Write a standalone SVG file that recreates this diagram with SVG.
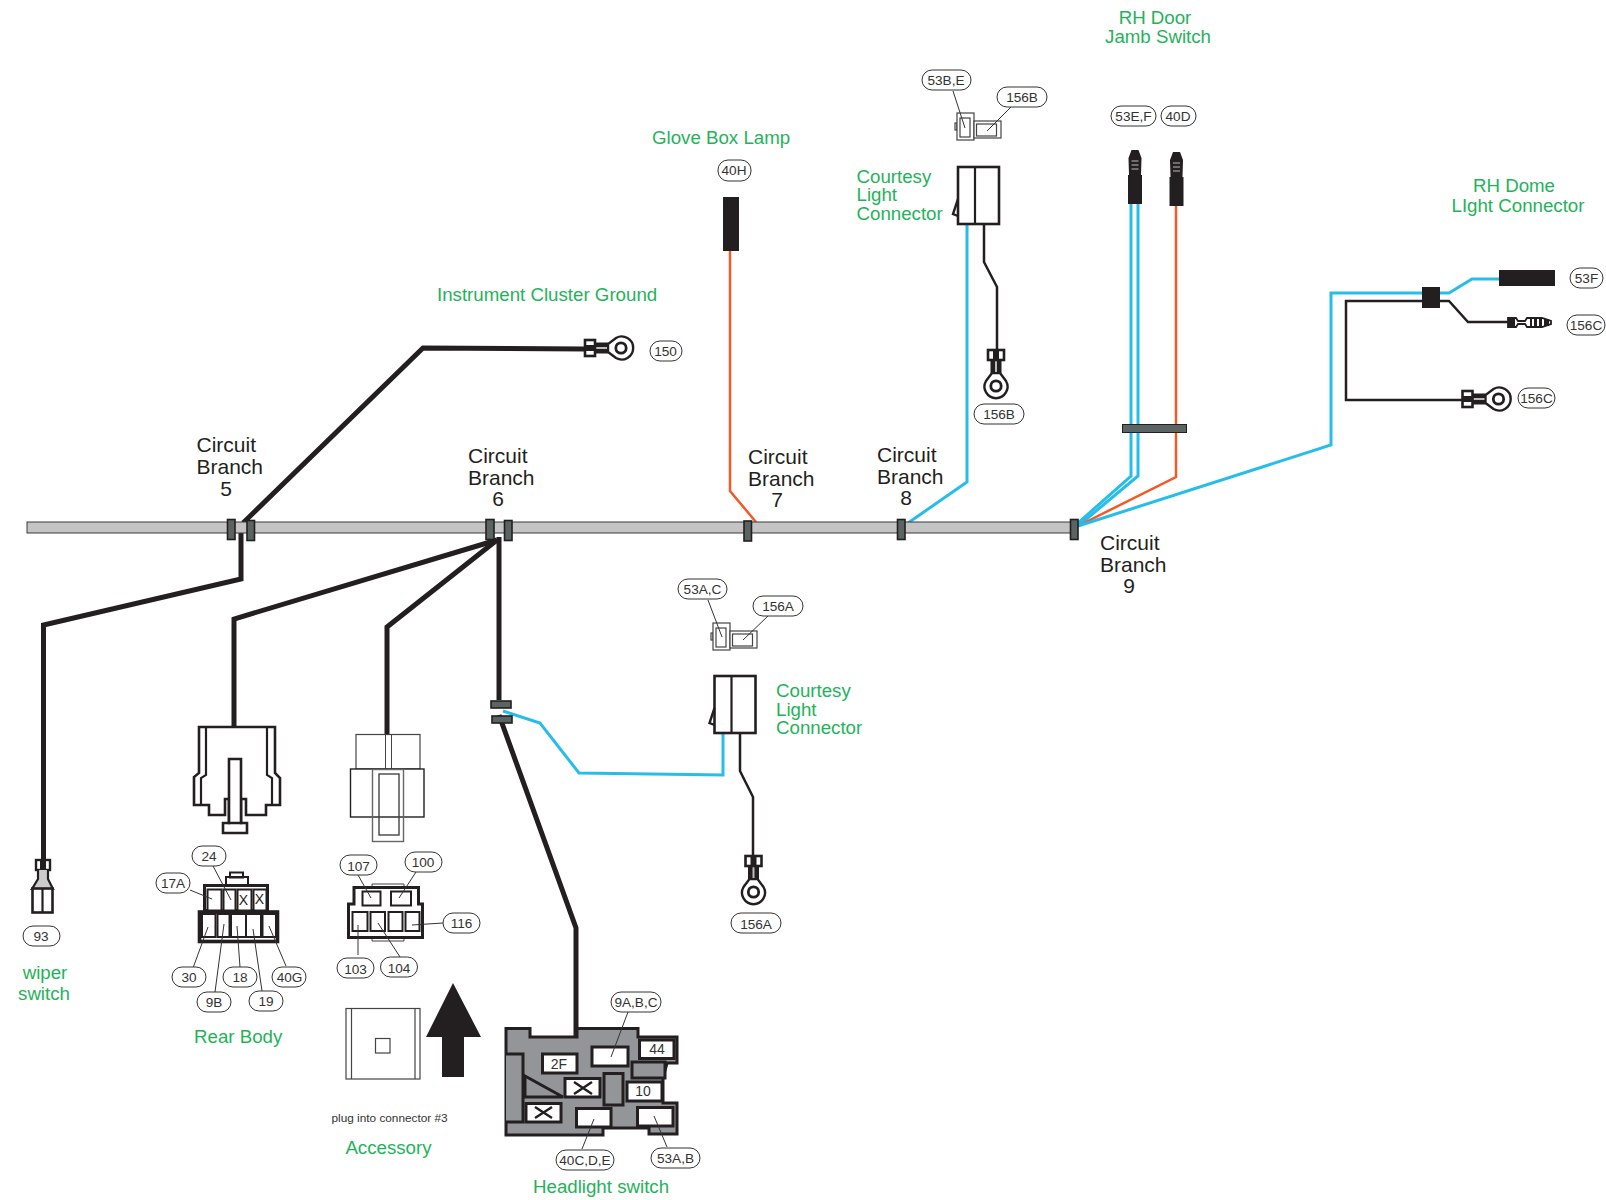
<svg xmlns="http://www.w3.org/2000/svg" xmlns:xlink="http://www.w3.org/1999/xlink" width="1606" height="1200" viewBox="0 0 1606 1200">
<style>
text{font-family:"Liberation Sans",Arial,sans-serif}
.g{font-size:18.7px;fill:#1fb35a}
.b{font-size:21px;fill:#231f20}
.m{text-anchor:middle}
.p{font-size:13.6px;fill:#333;text-anchor:middle}
.pill{fill:#fff;stroke:#333;stroke-width:1}
.ld{fill:none;stroke:#333;stroke-width:1}
.w{fill:none;stroke-linejoin:miter}
.k5{stroke:#231f20;stroke-width:5}
.k2{stroke:#231f20;stroke-width:2.5}
.bl{stroke:#27bdea;stroke-width:3}
.or{stroke:#f15a29;stroke-width:2.5}
.clip{fill:#5a6462;stroke:#231f20;stroke-width:1.6}
.thin{fill:#fff;stroke:#444;stroke-width:1.2}
.cell{fill:#fff;stroke:#231f20;stroke-width:2}
.hb{fill:#fff;stroke:#231f20;stroke-width:3}
.hg{fill:#939598;stroke:#231f20;stroke-width:3}
</style>
<defs>
<g id="ring">
<path d="M-4,-13 L-10,-5 A11.5,11.5 0 1 0 10,-5 L4,-13Z" fill="#fff" stroke="#231f20" stroke-width="2.4"/>
<circle r="5.2" fill="#fff" stroke="#231f20" stroke-width="2.8"/>
<rect x="-5.500" y="-26" width="11" height="13" fill="#231f20"/>
<rect x="-1" y="-26" width="2" height="12" fill="#bbb"/>
<rect x="-8" y="-36" width="16" height="10" fill="#fff" stroke="#231f20" stroke-width="2.6"/>
<rect x="-3" y="-36" width="6" height="10" fill="#231f20"/>
</g>
<g id="smallconn">
<rect x="-2" y="10" width="2" height="7" class="thin"/>
<rect x="0" y="0" width="17" height="27" class="thin"/>
<rect x="3" y="5" width="10" height="19" class="thin"/>
<rect x="17" y="8" width="27" height="17" class="thin"/>
<rect x="19.500" y="11" width="20" height="12" class="thin"/>
</g>
<g id="courtesy">
<rect x="0" y="0" width="41" height="57" fill="#fff" stroke="#231f20" stroke-width="2.6"/>
<path d="M17,0V57" stroke="#231f20" stroke-width="2.2"/>
<path d="M0,32L-5,47L0,49" fill="none" stroke="#231f20" stroke-width="2.4"/>
</g>
<g id="pin">
<path d="M-6,0 L-6.500,-17 L-3.500,-25 H3.500 L6.500,-17 L6,0Z" fill="#231f20"/>
<path d="M-3.500,-14H3.500M-3.500,-10H3.500M-3.500,-6H3.500" stroke="#bbb" stroke-width="1"/>
<rect x="-7" y="0" width="14" height="29" fill="#231f20"/>
</g>
</defs>

<g id="connectors">
<path class="w k5" d="M243,523L423,348L585,349"/>
<path class="w k5" d="M241,526V579L43.500,625V860"/>
<path class="w k5" d="M497,540L234,619V727"/>
<path class="w k5" d="M497,540L387,627V735"/>
<path class="w k5" d="M499,537V700M499,715L576,928V1037"/>
<path class="w bl" d="M503,711L540,723L579,773L723,775V733"/>
<path class="w k2" d="M740,733V771L753,797V857"/>
<path class="w or" d="M756,522L730,491V250"/>
<path class="w bl" d="M908,523L967,482V224"/>
<path class="w k2" d="M984,224V262L997,287V349"/>
<path class="w bl" d="M1131,204V476L1078,523"/>
<path class="w bl" d="M1138,204V476L1078,526"/>
<path class="w or" d="M1176,206V477L1078,526"/>
<path class="w bl" d="M1078,526L1331,445V293H1422"/>
<path class="w bl" d="M1440,293H1449L1472,279H1499"/>
<path class="w k2" d="M1422,301H1346V400H1462"/>
<path class="w k2" d="M1440,301H1449L1468,322H1510"/>
</g>

<g id="harness">
<rect x="27" y="522" width="1047" height="11" fill="#c4c4c4" stroke="#3a3a3a" stroke-width="1"/>
<rect class="clip" x="227.500" y="519.500" width="7.500" height="20"/>
<rect class="clip" x="247" y="520.500" width="7.500" height="20"/>
<rect class="clip" x="486" y="519.500" width="8" height="20"/>
<rect class="clip" x="504.500" y="520.500" width="7.500" height="20"/>
<rect class="clip" x="744" y="521" width="7.500" height="20"/>
<rect class="clip" x="897.500" y="519.500" width="7.500" height="20"/>
<rect class="clip" x="1070.500" y="519.500" width="7.500" height="20"/>
<rect class="clip" x="491" y="701" width="20" height="7"/>
<rect class="clip" x="492" y="716" width="20" height="7"/>
<rect x="1122.500" y="424.500" width="64" height="8" fill="#5a6462" stroke="#231f20"/>
</g>

<g id="branch-labels">
<text class="b" x="196.500" y="452">Circuit</text><text class="b" x="196.500" y="474">Branch</text><text class="b m" x="226" y="496">5</text>
<text class="b" x="468" y="463">Circuit</text><text class="b" x="468" y="485">Branch</text><text class="b m" x="498" y="506">6</text>
<text class="b" x="748" y="464">Circuit</text><text class="b" x="748" y="486">Branch</text><text class="b m" x="777" y="507">7</text>
<text class="b" x="877" y="462">Circuit</text><text class="b" x="877" y="484">Branch</text><text class="b m" x="906" y="505">8</text>
<text class="b" x="1100" y="550">Circuit</text><text class="b" x="1100" y="572">Branch</text><text class="b m" x="1129" y="593">9</text>
</g>

<g id="instrument-ground">
<use xlink:href="#ring" href="#ring" transform="translate(621,348) rotate(-90)"/>
<text class="g" x="437" y="301">Instrument Cluster Ground</text>
<rect class="pill" x="650" y="341" width="32" height="20" rx="10"/><text class="p" x="665.500" y="356">150</text>
</g>

<g id="glove-box">
<rect x="723" y="197" width="16" height="54" fill="#231f20"/>
<text class="g" x="652" y="144">Glove Box Lamp</text>
<rect class="pill" x="718" y="160" width="33" height="21" rx="10"/><text class="p" x="734" y="175">40H</text>
</g>

<g id="courtesy-b">
<use xlink:href="#smallconn" href="#smallconn" transform="translate(957,113)"/>
<use xlink:href="#courtesy" href="#courtesy" transform="translate(958,167)"/>
<use xlink:href="#ring" href="#ring" transform="translate(996,386)"/>
<path class="ld" d="M953,91L965,128M1011,107L987,131"/>
<rect class="pill" x="922" y="70" width="49" height="20" rx="10"/><text class="p" x="946" y="85">53B,E</text>
<rect class="pill" x="997" y="87" width="50" height="20" rx="10"/><text class="p" x="1022" y="102">156B</text>
<rect class="pill" x="974" y="404" width="50" height="20" rx="10"/><text class="p" x="999" y="419">156B</text>
<text class="g" x="856.500" y="183">Courtesy</text><text class="g" x="856.500" y="201">Light</text><text class="g" x="856.500" y="220">Connector</text>
</g>

<g id="rh-door">
<use xlink:href="#pin" href="#pin" transform="translate(1135,175)"/>
<use xlink:href="#pin" href="#pin" transform="translate(1176.500,177)"/>
<rect class="pill" x="1111" y="106" width="45" height="20" rx="10"/><text class="p" x="1133.500" y="121">53E,F</text>
<rect class="pill" x="1161" y="106" width="35" height="20" rx="10"/><text class="p" x="1178" y="121">40D</text>
<text class="g m" x="1155" y="24">RH Door</text><text class="g m" x="1158" y="43">Jamb Switch</text>
</g>

<g id="rh-dome">
<rect x="1422" y="287" width="18" height="21" fill="#231f20"/>
<rect x="1499" y="270" width="56" height="16" fill="#231f20"/>
<use xlink:href="#ring" href="#ring" transform="translate(1498.500,399) rotate(-90)"/>
<path d="M1508,318h8l2,3h7l2,-3h15l9,3v3l-9,3h-15l-2,-3h-7l-2,3h-8z" fill="#fff" stroke="#231f20" stroke-width="1.800"/>
<path d="M1508,318h7v9h-7zM1530,318h2v9h-2zM1534,318h3v9h-3zM1539,318h3v9h-3zM1544,319h5v7h-5z" fill="#231f20"/>
<rect class="pill" x="1570" y="268" width="33" height="20" rx="10"/><text class="p" x="1586.500" y="283">53F</text>
<rect class="pill" x="1567" y="315" width="38" height="20" rx="10"/><text class="p" x="1586" y="330">156C</text>
<rect class="pill" x="1518" y="388" width="37" height="20" rx="10"/><text class="p" x="1536.500" y="403">156C</text>
<text class="g m" x="1514" y="192">RH Dome</text><text class="g m" x="1518" y="212">LIght Connector</text>
</g>

<g id="wiper-switch">
<rect x="36" y="860" width="14" height="10" fill="#fff" stroke="#231f20" stroke-width="2.400"/>
<rect x="40" y="860" width="6" height="10" fill="#231f20"/>
<path d="M38,870V879L32,889H53L48,879V870" fill="#ccc" stroke="#231f20" stroke-width="2.200"/>
<rect x="32.500" y="888.500" width="20" height="24" fill="#fff" stroke="#231f20" stroke-width="2.600"/>
<path d="M42.500,888V913" stroke="#231f20" stroke-width="2.200"/>
<rect class="pill" x="23" y="926" width="37" height="20" rx="10"/><text class="p" x="41" y="941">93</text>
<text class="g m" x="45" y="979">wiper</text><text class="g m" x="44" y="1000">switch</text>
</g>

<g id="rear-body">
<path d="M199,727H275V773L280,778V805H266V815H246V799H241V823H247V833H223V823H229V799H225V815H209V805H194V777L199,773Z" fill="#fff" stroke="#231f20" stroke-width="2.600"/>
<path d="M206,727V775L201,778V805M267,727V775L272,778V805" fill="none" stroke="#231f20" stroke-width="2.200"/>
<path d="M229,759H241V823H229Z" fill="#fff" stroke="#231f20" stroke-width="2.600"/>
<path d="M230,872.500h13v5h-13zM226,877h22v8h-22z" fill="#fff" stroke="#231f20" stroke-width="2"/>
<rect x="204.500" y="885.500" width="63" height="25" fill="#fff" stroke="#231f20" stroke-width="3"/>
<rect class="cell" x="207.500" y="889.500" width="14" height="21"/><rect class="cell" x="223.500" y="889.500" width="12" height="21"/><rect class="cell" x="237.500" y="889.500" width="14" height="21"/><rect class="cell" x="253.500" y="889.500" width="13" height="21"/>
<rect x="199.500" y="912" width="78" height="29.500" fill="#fff" stroke="#231f20" stroke-width="3.600"/>
<rect class="cell" x="202" y="914" width="13.500" height="23"/><rect class="cell" x="217.500" y="914" width="12" height="23"/><rect class="cell" x="231" y="914" width="15" height="23" stroke-width="1"/><rect class="cell" x="246" y="914" width="15" height="23" stroke-width="1"/><rect class="cell" x="262.500" y="914" width="13.500" height="23"/>
<text x="243.500" y="905" font-size="14" fill="#231f20" class="m">X</text><text x="259.500" y="904" font-size="14" fill="#231f20" class="m">X</text>
<path class="ld" d="M213,866L231,900M190,890L212,899M193,968L208,927M215,992L224,924M240,967L237,926M262,991L253,929M286,966L269,926"/>
<rect class="pill" x="192" y="846" width="34" height="20" rx="10"/><text class="p" x="209" y="860.500">24</text>
<rect class="pill" x="156" y="873" width="34" height="20" rx="10"/><text class="p" x="173" y="888">17A</text>
<rect class="pill" x="172" y="967" width="34" height="20" rx="10"/><text class="p" x="189" y="982">30</text>
<rect class="pill" x="197" y="992" width="34" height="20" rx="10"/><text class="p" x="214" y="1007">9B</text>
<rect class="pill" x="223" y="967" width="34" height="20" rx="10"/><text class="p" x="240" y="982">18</text>
<rect class="pill" x="249" y="991" width="34" height="20" rx="10"/><text class="p" x="266" y="1006">19</text>
<rect class="pill" x="272" y="967" width="34" height="20" rx="10"/><text class="p" x="289.500" y="982">40G</text>
<text class="g" x="194" y="1043">Rear Body</text>
</g>

<g id="accessory">
<rect x="356" y="734.500" width="64" height="34.500" class="thin"/>
<path d="M385.500,735V769M391.500,735V769" stroke="#444" fill="none"/>
<rect x="350.500" y="769" width="73.500" height="48" fill="#fff" stroke="#231f20" stroke-width="1.400"/>
<rect x="372.500" y="769.500" width="31" height="72" fill="none" stroke="#666" stroke-width="1.400"/>
<rect x="379" y="774" width="20" height="61" fill="none" stroke="#444" stroke-width="1.400"/>
<path d="M372,887V884H404V887M372,938V941H404V938" fill="#fff" stroke="#444"/>
<path d="M354,904V887.500H418.500V904H422.500V937.500H348.500V904Z" fill="#fff" stroke="#231f20" stroke-width="3"/>
<rect class="cell" x="362.500" y="891.500" width="18" height="14"/><rect class="cell" x="391" y="891.500" width="20" height="14"/>
<rect class="cell" x="352.500" y="912" width="15" height="19"/><rect class="cell" x="370.500" y="912" width="14.500" height="19"/><rect class="cell" x="388.500" y="912" width="14" height="19"/><rect class="cell" x="405.500" y="912" width="14" height="19"/>
<path class="ld" d="M358,875L371,898M416,872L399,898M443,923L412,925M358,925V955M378,923L400,957"/>
<rect class="pill" x="340" y="855" width="37" height="20" rx="10"/><text class="p" x="358.500" y="871">107</text>
<rect class="pill" x="405" y="852" width="37" height="20" rx="10"/><text class="p" x="423" y="867">100</text>
<rect class="pill" x="443" y="913" width="37" height="20" rx="10"/><text class="p" x="461.500" y="928">116</text>
<rect class="pill" x="337" y="958" width="37" height="20" rx="10"/><text class="p" x="355.500" y="974">103</text>
<rect class="pill" x="380.500" y="957" width="37" height="20" rx="10"/><text class="p" x="399" y="973">104</text>
<rect class="thin" x="346" y="1008.500" width="74" height="70.500"/>
<path d="M351.500,1008.500V1079M415,1008.500V1079" stroke="#444" fill="none" stroke-width="1.200"/>
<rect class="thin" x="375.500" y="1038.500" width="14.500" height="14.500"/>
<path d="M453,983L481,1037H464V1077H442V1037H426Z" fill="#231f20"/>
<text x="331.500" y="1122" font-size="11.800" fill="#333">plug into connector #3</text>
<text class="g m" x="388.500" y="1154">Accessory</text>
</g>

<g id="courtesy-a">
<use xlink:href="#smallconn" href="#smallconn" transform="translate(713,623)"/>
<use xlink:href="#courtesy" href="#courtesy" transform="translate(714.500,676)"/>
<use xlink:href="#ring" href="#ring" transform="translate(753.500,892)"/>
<path class="ld" d="M708,600L722,637M768,616L743,640"/>
<rect class="pill" x="678" y="579" width="49" height="20" rx="10"/><text class="p" x="702.500" y="594">53A,C</text>
<rect class="pill" x="753" y="596" width="50" height="20" rx="10"/><text class="p" x="778" y="611">156A</text>
<rect class="pill" x="731" y="913" width="50" height="20" rx="10"/><text class="p" x="756" y="929">156A</text>
<text class="g" x="776" y="697">Courtesy</text><text class="g" x="776" y="716">Light</text><text class="g" x="776" y="734">Connector</text>
</g>

<g id="headlight-switch">
<path d="M506,1028.500H530V1037H577V1028.500H638V1037H677V1063H667L663,1078V1103H677V1134H649V1128H603V1135H506Z" fill="#939598" stroke="#231f20" stroke-width="3"/>
<path class="hg" d="M506,1054H523V1122H506"/>
<path class="hg" d="M525,1076L563,1097H525Z"/>
<rect class="hb" x="542.500" y="1054" width="34.500" height="19"/>
<rect class="hb" x="592" y="1047" width="36" height="19"/>
<rect class="hb" x="639.500" y="1040" width="34.500" height="18.500"/>
<rect class="hg" x="632" y="1062" width="33" height="16"/>
<rect class="hb" x="565" y="1078.500" width="35" height="18.500"/>
<rect class="hg" x="604" y="1073.500" width="19" height="31.500"/>
<rect class="hb" x="627" y="1082" width="35" height="19"/>
<rect class="hb" x="526" y="1103.500" width="35" height="18.500"/>
<rect class="hb" x="576.500" y="1108.500" width="34.500" height="18.500"/>
<rect class="hb" x="637.500" y="1107.500" width="35.500" height="18.500"/>
<path d="M574,1082L592,1094M592,1082L574,1094M535,1107L552,1118M552,1107L535,1118" stroke="#231f20" stroke-width="2.400"/>
<text x="559" y="1068.500" font-size="14" fill="#333" class="m">2F</text>
<text x="657" y="1053.500" font-size="14" fill="#333" class="m">44</text>
<text x="643" y="1096" font-size="14" fill="#333" class="m">10</text>
<path class="ld" d="M628,1012L611,1057M582,1149L594,1119M667,1147L654,1116"/>
<rect class="pill" x="611" y="992" width="50" height="20" rx="10"/><text class="p" x="636" y="1007">9A,B,C</text>
<rect class="pill" x="556" y="1150" width="58" height="20" rx="10"/><text class="p" x="585" y="1165">40C,D,E</text>
<rect class="pill" x="651" y="1148" width="49" height="20" rx="10"/><text class="p" x="675.500" y="1163">53A,B</text>
<text class="g" x="533" y="1193">Headlight switch</text>
</g>
</svg>
